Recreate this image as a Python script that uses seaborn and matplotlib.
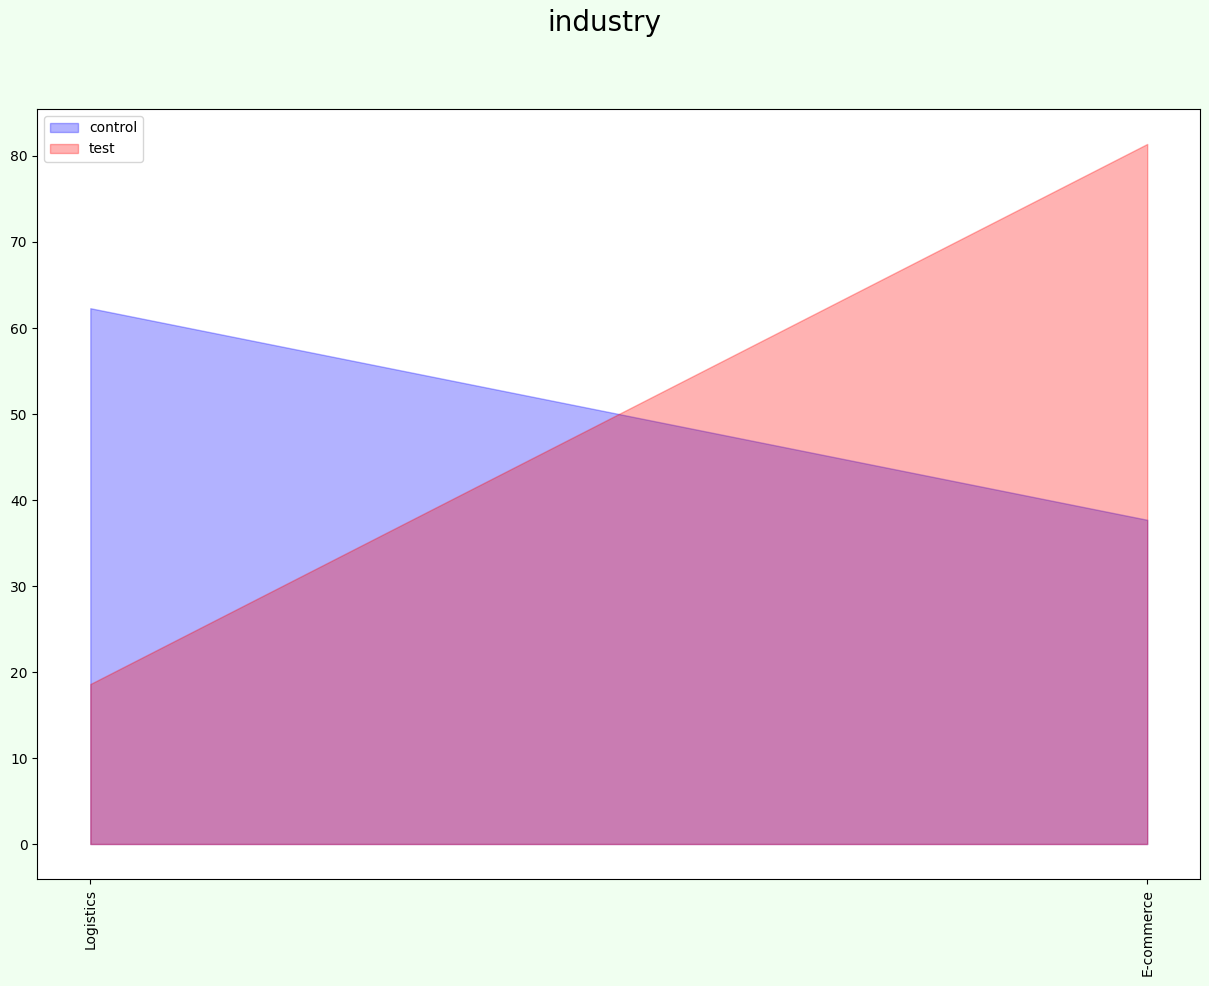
import matplotlib
matplotlib.use("Agg")
import matplotlib.pyplot as plt
import seaborn as sns
import pandas as pd

# data
categories = ["Logistics", "E-commerce"]
control = [62.3, 37.7]
test = [18.6, 81.4]

df = pd.DataFrame({"industry": categories, "control": control, "test": test})
x = list(range(len(categories)))

fig, ax = plt.subplots(figsize=(12.09, 9.86), dpi=100)
fig.patch.set_facecolor("#F0FFF0")

ax.fill_between(x, df["control"], color="blue", alpha=0.3, label="control")
ax.fill_between(x, df["test"], color="red", alpha=0.3, label="test")

ax.set_xticks(x)
ax.set_xticklabels(categories, rotation=90)
ax.legend(loc="upper left")
sns.despine(ax=ax, top=False, right=False)

fig.suptitle("industry", fontsize=20, y=0.991)
fig.subplots_adjust(left=0.031, right=0.9926, top=0.8895, bottom=0.1085)
fig.savefig("out.png", facecolor=fig.get_facecolor())
